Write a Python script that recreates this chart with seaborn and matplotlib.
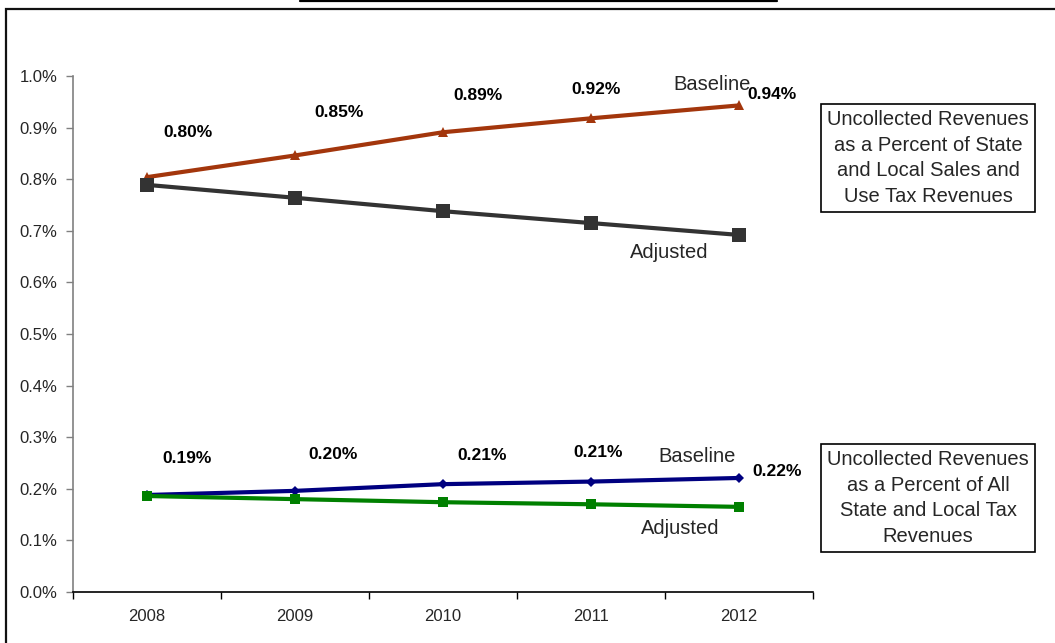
import matplotlib
matplotlib.use("Agg")
import matplotlib.pyplot as plt
import seaborn as sns
import pandas as pd
from matplotlib.patches import Rectangle
from matplotlib.lines import Line2D
from matplotlib.ticker import FuncFormatter, FixedLocator

# Years on the category axis
years = ["2008", "2009", "2010", "2011", "2012"]

# Uncollected revenues as a percent of state and local sales and use tax revenues
sales_baseline = [0.804, 0.846, 0.891, 0.918, 0.943]
sales_adjusted = [0.789, 0.764, 0.738, 0.715, 0.692]

# Uncollected revenues as a percent of all state and local tax revenues
all_baseline = [0.188, 0.196, 0.209, 0.214, 0.221]
all_adjusted = [0.186, 0.180, 0.174, 0.170, 0.165]

y_ticks = [0.0, 0.1, 0.2, 0.3, 0.4, 0.5, 0.6, 0.7, 0.8, 0.9, 1.0]

sns.set_style("white")
plt.rcParams["font.family"] = ["Liberation Sans", "DejaVu Sans"]

W, H = 1055, 643
fig = plt.figure(figsize=(W / 100, H / 100), dpi=100)
ax = fig.add_axes([73 / W, 1 - 592 / H, (813 - 73) / W, (592 - 76) / H])

pos = list(range(len(years)))
df = pd.DataFrame({
    "pos": pos * 4,
    "value": sales_baseline + sales_adjusted + all_baseline + all_adjusted,
    "series": (["sales_baseline"] * 5 + ["sales_adjusted"] * 5
               + ["all_baseline"] * 5 + ["all_adjusted"] * 5),
})

styles = {
    "sales_baseline": dict(color="#A3360C", marker="^", markersize=7.5),
    "sales_adjusted": dict(color="#333333", marker="s", markersize=10),
    "all_baseline": dict(color="#000080", marker="D", markersize=5.5),
    "all_adjusted": dict(color="#008000", marker="s", markersize=6.5),
}
for name, st in styles.items():
    sub = df[df["series"] == name]
    sns.lineplot(data=sub, x="pos", y="value", ax=ax, linewidth=3,
                 markeredgewidth=0, legend=False, **st)

ax.set_xlim(-0.5, len(years) - 0.5)
ax.set_ylim(0, 1.0)
ax.set_xlabel("")
ax.set_ylabel("")

# Category boundaries carry the tick marks, labels sit at the centers
ax.xaxis.set_major_locator(FixedLocator([p - 0.5 for p in pos] + [len(years) - 0.5]))
ax.xaxis.set_minor_locator(FixedLocator(pos))
ax.set_xticklabels([], minor=False)
ax.set_xticklabels(years, minor=True)
ax.tick_params(axis="x", which="major", direction="out", length=5, width=1,
               color="#000000", bottom=True)
ax.tick_params(axis="x", which="minor", length=0, pad=12, labelsize=12)

ax.set_yticks(y_ticks)
ax.yaxis.set_major_formatter(FuncFormatter(lambda v, _: f"{v:.1f}%"))
ax.tick_params(axis="y", direction="out", length=5, width=1, color="#808080",
               left=True, labelsize=12, pad=6)

for side in ("top", "right"):
    ax.spines[side].set_visible(False)
ax.spines["left"].set_color("#808080")
ax.spines["left"].set_linewidth(1.2)
ax.spines["bottom"].set_color("#000000")
ax.spines["bottom"].set_linewidth(1.2)

# Value labels
sales_offsets = [(41, 45), (44, 43), (35, 37), (5, 29), (33, 11)]
all_offsets = [(40, 36), (38, 36), (39, 29), (7, 29), (38, 6)]
for vals, offs in ((sales_baseline, sales_offsets), (all_baseline, all_offsets)):
    for p, v, (dx, dy) in zip(pos, vals, offs):
        ax.annotate(f"{v:.2f}%", xy=(p, v), xytext=(dx, dy),
                    textcoords="offset pixels", ha="center", va="center",
                    fontsize=12.5, fontweight="bold", color="black")

# Series names
ax.text(3.82, 0.984, "Baseline", fontsize=14.5, ha="center", va="center")
ax.text(3.53, 0.657, "Adjusted", fontsize=14.5, ha="center", va="center")
ax.text(3.72, 0.262, "Baseline", fontsize=14.5, ha="center", va="center")
ax.text(3.60, 0.124, "Adjusted", fontsize=14.5, ha="center", va="center")

# Boxed descriptions of each pair of lines
box = dict(boxstyle="square,pad=0.3", facecolor="white", edgecolor="black",
           linewidth=1.2)
fig.text(928 / W, 1 - 158 / H,
         "Uncollected Revenues\nas a Percent of State\nand Local Sales and\nUse Tax Revenues",
         ha="center", va="center", fontsize=14.5, linespacing=1.45, bbox=box)
fig.text(928 / W, 1 - 498 / H,
         "Uncollected Revenues\nas a Percent of All\nState and Local Tax\nRevenues",
         ha="center", va="center", fontsize=14.5, linespacing=1.45, bbox=box)

# Outer frame and heading rule
fig.patches.append(Rectangle((6 / W, -0.1), 1.2, 1 - 9 / H + 0.1,
                             transform=fig.transFigure, fill=False,
                             edgecolor="#111111", linewidth=1.6))
fig.lines.append(Line2D([300 / W, 777 / W], [1 - 1 / H, 1 - 1 / H],
                        transform=fig.transFigure, color="black", linewidth=1.6))

fig.savefig("out.png", dpi=100)
